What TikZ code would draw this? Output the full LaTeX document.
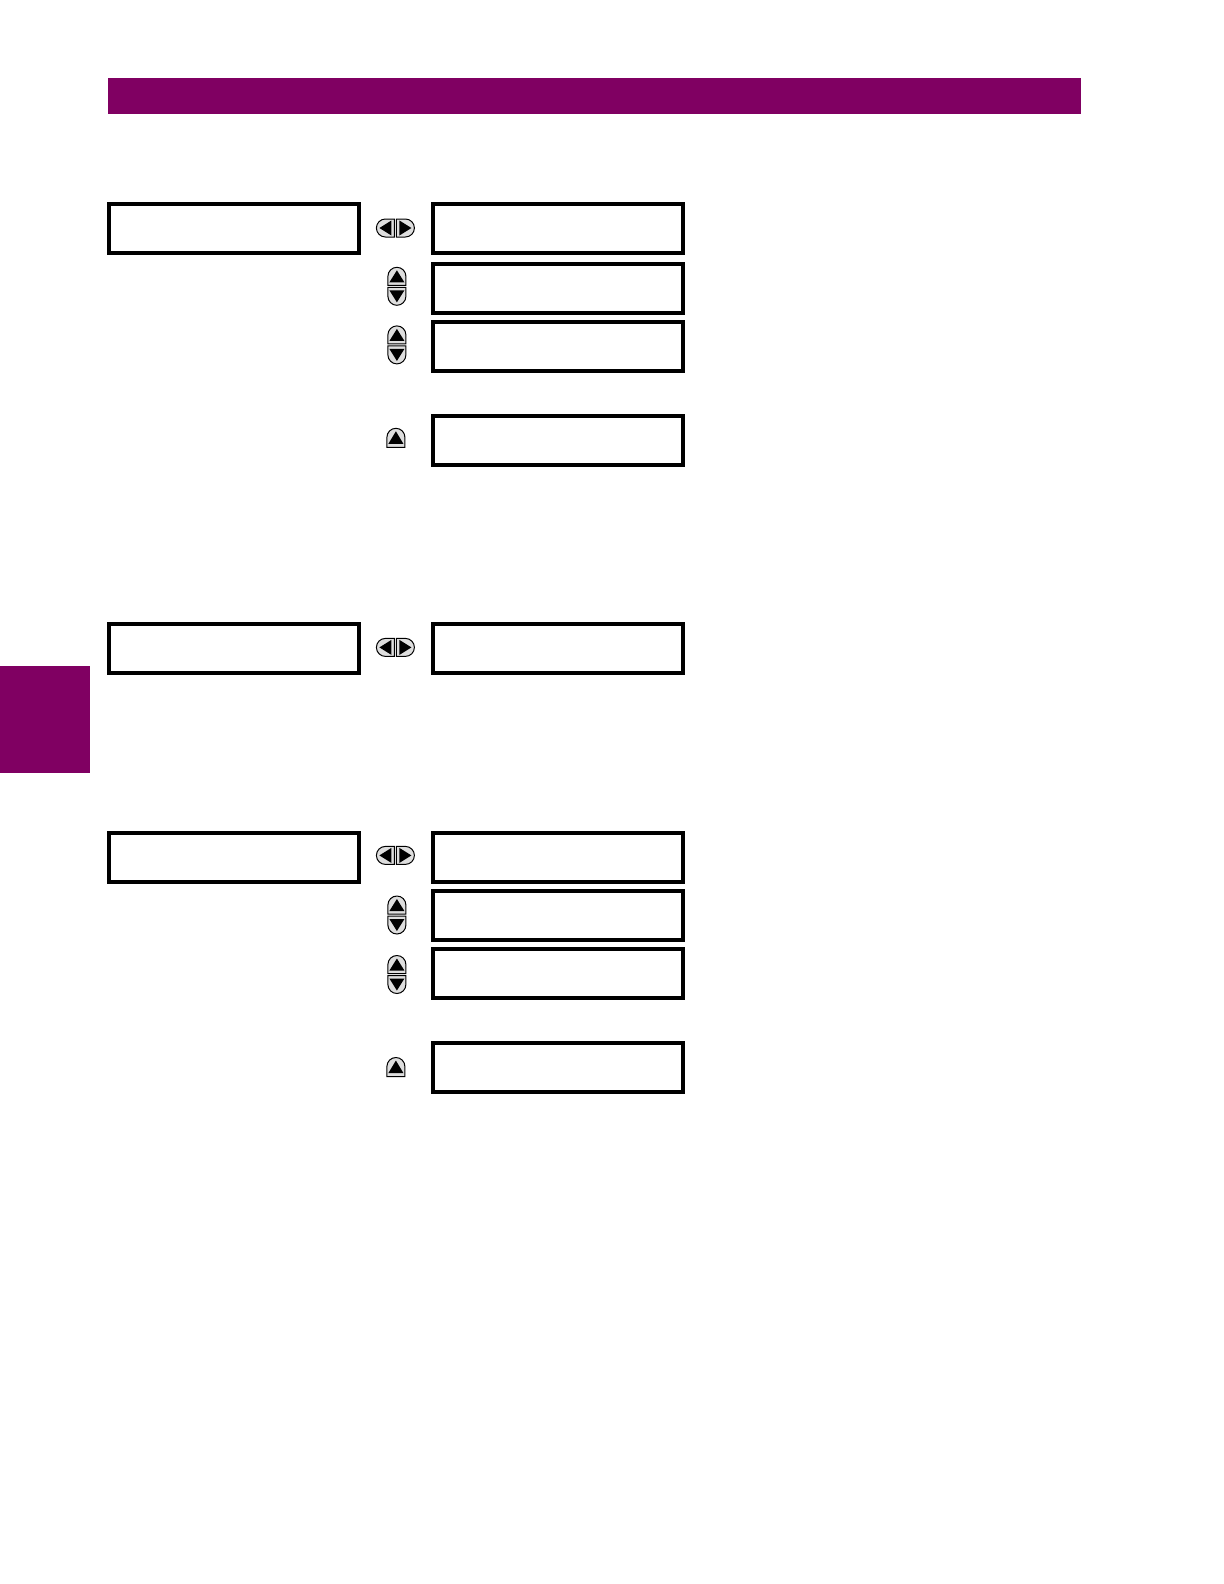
\documentclass[tikz,border=0pt]{standalone}
\definecolor{gepurple}{RGB}{128,0,98}
\definecolor{keygray}{RGB}{222,222,222}
\tikzset{
  px/.style={x=0.5pt,y=-0.5pt},
  up/.style={x=0.5pt,y=0.5pt},
  dispbox/.style={draw=black,line width=2pt,minimum width=125pt,minimum height=24.5pt,inner sep=0pt,fill=white},
  keyhalf/.style={draw=black,fill=keygray,line width=0.5pt},
  keytri/.style={fill=black,draw=none},
  lrkey/.pic={
    \begin{scope}[up]
    \draw[keyhalf] (-1,9) -- (-10,9) arc (90:270:4.5pt) -- (-1,-9) -- cycle;
    \fill[keytri] (-16,0) -- (-4,7.5) -- (-4,-7.5) -- cycle;
    \draw[keyhalf] (1,9) -- (10,9) arc (90:-90:4.5pt) -- (1,-9) -- cycle;
    \fill[keytri] (16,0) -- (4,7.5) -- (4,-7.5) -- cycle;
    \end{scope}
  },
  udkey/.pic={
    \begin{scope}[up]
    \draw[keyhalf] (-9,1) -- (-9,10) arc (180:0:4.5pt) -- (9,1) -- cycle;
    \fill[keytri] (0,16) -- (-7.5,4) -- (7.5,4) -- cycle;
    \draw[keyhalf] (-9,-1) -- (-9,-10) arc (180:360:4.5pt) -- (9,-1) -- cycle;
    \fill[keytri] (0,-16) -- (-7.5,-4) -- (7.5,-4) -- cycle;
    \end{scope}
  },
  upkey/.pic={
    \begin{scope}[up]
    \draw[keyhalf] (-9,-9) -- (-9,1) arc (180:0:4.5pt) -- (9,-9) -- cycle;
    \fill[keytri] (0,7) -- (-7.5,-5.5) -- (7.5,-5.5) -- cycle;
    \end{scope}
  }
}
\begin{document}
\begin{tikzpicture}[px]
\useasboundingbox (0,0) rectangle (1224,1584);
\fill[white] (0,0) rectangle (1224,1584);
% header bar and side tab
\fill[gepurple] (108,78) rectangle (1081,114);
\fill[gepurple] (0,666) rectangle (90,773);

% section 1
\node[dispbox] (a0) at (234,228.5) {};
\node[dispbox] (a1) at (558,228.5) {};
\node[dispbox] (a2) at (558,288) {};
\node[dispbox] (a3) at (558,346) {};
\node[dispbox] (a4) at (558,440) {};
\pic (ka1) at (395.4,228) {lrkey};
\pic (ka2) at (396.9,286.3) {udkey};
\pic (ka3) at (396.9,344.9) {udkey};
\pic (ka4) at (395.9,438.3) {upkey};

% section 2
\node[dispbox] (b0) at (234,648) {};
\node[dispbox] (b1) at (558,648) {};
\pic (kb1) at (395.4,647.4) {lrkey};

% section 3
\node[dispbox] (c0) at (234,857) {};
\node[dispbox] (c1) at (558,857) {};
\node[dispbox] (c2) at (558,915.5) {};
\node[dispbox] (c3) at (558,973) {};
\node[dispbox] (c4) at (558,1067) {};
\pic (kc1) at (395.4,855.4) {lrkey};
\pic (kc2) at (396.9,915) {udkey};
\pic (kc3) at (396.9,974.5) {udkey};
\pic (kc4) at (395.9,1067.5) {upkey};
\end{tikzpicture}
\end{document}
